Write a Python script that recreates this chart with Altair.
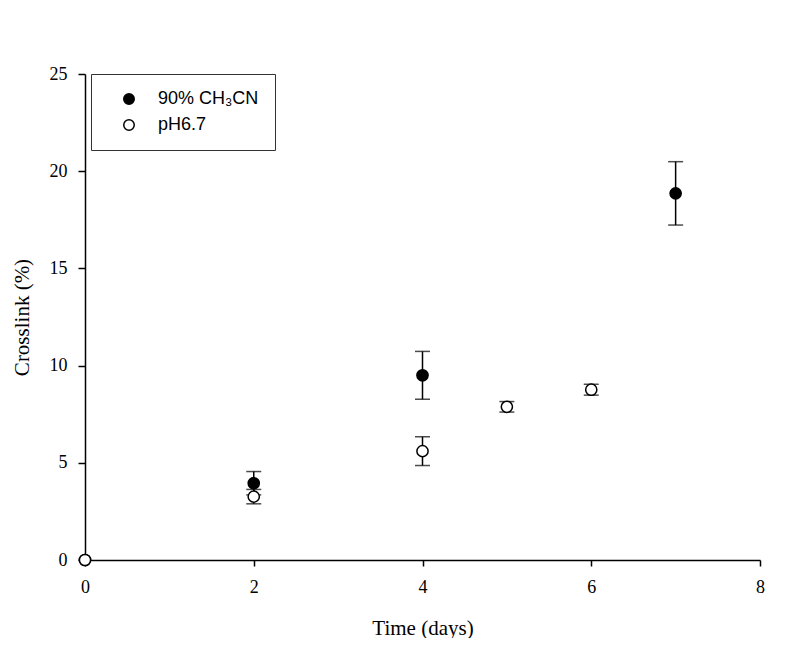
import altair as alt
import pandas as pd

series_names = ["90% CH₃CN", "pH6.7"]

days_a = [0, 2, 4, 7]
cross_a = [0, 3.95, 9.5, 18.86]
err_a = [0, 0.6, 1.23, 1.63]

days_b = [0, 2, 4, 5, 6]
cross_b = [0, 3.26, 5.6, 7.88, 8.76]
err_b = [0, 0.37, 0.74, 0.27, 0.28]

x_ticks = [0, 2, 4, 6, 8]
y_ticks = [0, 5, 10, 15, 20, 25]

rows = []
for d, c, e in zip(days_a, cross_a, err_a):
    rows.append({"series": series_names[0], "day": d, "val": c, "lo": c - e, "hi": c + e, "err": e})
for d, c, e in zip(days_b, cross_b, err_b):
    rows.append({"series": series_names[1], "day": d, "val": c, "lo": c - e, "hi": c + e, "err": e})
df = pd.DataFrame(rows)

xscale = alt.Scale(domain=[0, 8], nice=False, zero=False)
yscale = alt.Scale(domain=[0, 25], nice=False, zero=False)

xaxis = alt.Axis(values=x_ticks, format="d", title="Time (days)", grid=False, tickSize=6,
                 labelPadding=12, labelFlush=False, titleY=74, titleBaseline="alphabetic")
yaxis = alt.Axis(values=y_ticks, format="d", title="Crosslink (%)", grid=False, tickSize=7,
                 labelPadding=11, labelFlush=False, titleX=-63, titleY=243, titleAngle=-90,
                 titleBaseline="middle", titleAlign="center")

base = alt.Chart(df)
errs = base.transform_filter("datum.err > 0")

bars = errs.mark_rule(color="black", strokeWidth=1.5).encode(
    x=alt.X("day:Q", scale=xscale, axis=xaxis),
    y=alt.Y("lo:Q", scale=yscale, axis=yaxis),
    y2="hi:Q",
)
cap_lo = errs.mark_tick(color="black", size=15, thickness=1.5, orient="horizontal").encode(
    x=alt.X("day:Q", scale=xscale), y=alt.Y("lo:Q", scale=yscale)
)
cap_hi = errs.mark_tick(color="black", size=15, thickness=1.5, orient="horizontal").encode(
    x=alt.X("day:Q", scale=xscale), y=alt.Y("hi:Q", scale=yscale)
)

points = base.mark_point(shape="circle", filled=True, stroke="black", strokeWidth=1.5,
                         size=125, opacity=1).encode(
    x=alt.X("day:Q", scale=xscale),
    y=alt.Y("val:Q", scale=yscale),
    fill=alt.Fill("series:N",
                  scale=alt.Scale(domain=series_names, range=["black", "white"]),
                  legend=alt.Legend(title=None, orient="none", legendX=6, legendY=0,
                                    strokeColor="#333333", fillColor="white",
                                    padding=16, symbolOffset=13,
                                    symbolType="circle", symbolSize=110,
                                    symbolStrokeColor="black", symbolStrokeWidth=1.5,
                                    labelFont="Liberation Sans", labelFontSize=18,
                                    labelColor="black", labelOffset=20,
                                    rowPadding=8, labelLimit=300)),
    order=alt.Order("series:N"),
)

chart = alt.layer(bars, cap_lo, cap_hi, points).properties(
    width=675, height=486,
    autosize=alt.AutoSizeParams(type="none"),
    padding={"left": 77, "top": 66, "right": 30, "bottom": 78},
    background="white",
).configure_view(stroke=None).configure_axis(
    domainColor="black", domainWidth=1.5, tickColor="black", tickWidth=1.5,
    labelFont="Liberation Serif", labelFontSize=18, labelColor="black",
    titleFont="Liberation Serif", titleFontSize=21, titleFontWeight="normal",
    titleColor="black",
)

chart.save("out.html", embed_options={"renderer": "svg", "actions": False})
